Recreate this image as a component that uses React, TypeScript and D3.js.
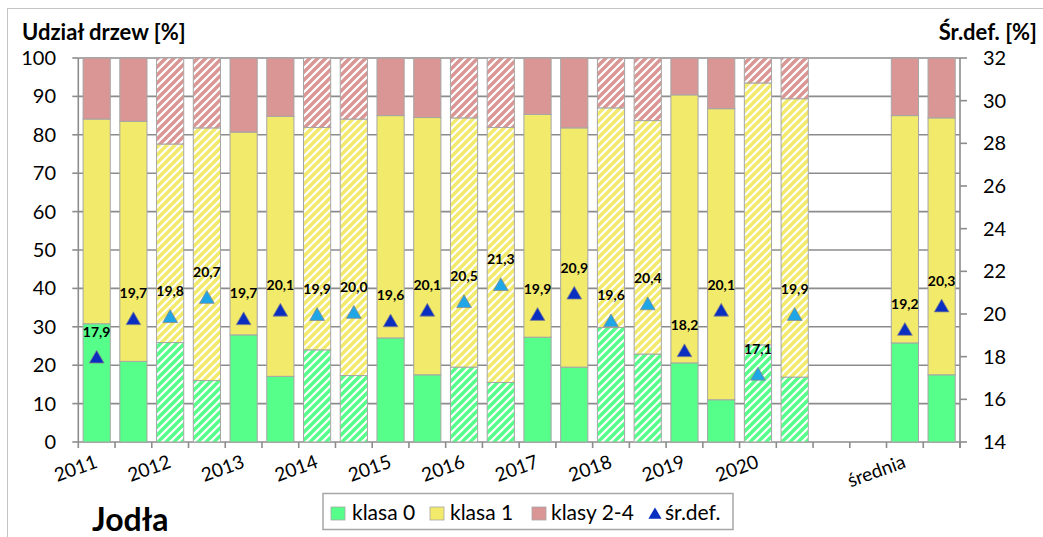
import React from "react";
import * as d3 from "d3";

const categories = ["2011","","2012","","2013","","2014","","2015","","2016","","2017","","2018","","2019","","2020","","","","średnia",""];
const klasa0 = [30.8,21.0,25.9,16.0,27.9,17.1,24.0,17.3,27.1,17.5,19.5,15.5,27.3,19.5,29.8,22.9,20.6,11.0,25.3,16.9,null,null,25.8,17.5];
const klasa1 = [53.3,62.5,51.7,65.8,52.8,67.7,57.9,66.8,57.9,67.0,64.9,66.4,58.0,62.3,57.2,60.8,69.8,75.8,68.2,72.5,null,null,59.2,66.9];
const klasy24 = [15.9,16.5,22.4,18.2,19.3,15.2,18.1,15.9,15.0,15.5,15.6,18.1,14.7,18.2,13.0,16.3,9.6,13.2,6.5,10.6,null,null,15.0,15.6];
const srDef = [17.9,19.7,19.8,20.7,19.7,20.1,19.9,20.0,19.6,20.1,20.5,21.3,19.9,20.9,19.6,20.4,18.2,20.1,17.1,19.9,null,null,19.2,20.3];
const hatched = [false,false,true,true,false,false,true,true,false,false,true,true,false,false,true,true,false,false,true,true,false,false,false,false];
const leftTicks = [0,10,20,30,40,50,60,70,80,90,100];
const rightTicks = [14,16,18,20,22,24,26,28,30,32];
const legendLabels = ["klasa 0", "klasa 1", "klasy 2-4", "śr.def."];

const C_GREEN = "#55FF8A";
const C_YELLOW = "#F2EA6A";
const C_PINK = "#DA9694";
const C_DARK = "#0A2EC0";
const C_LIGHT = "#1EA6E6";
const FONT = "Lato, 'Open Sans', sans-serif";

export default function App() {
  const W = 1043, H = 537;
  const x0 = 78.3, x1 = 960, yTop = 58, yBot = 442;
  const idx = categories.map((_, i) => String(i));
  const x = d3.scaleBand().domain(idx).range([x0, x1]).paddingInner(0.26).paddingOuter(0.13);
  const yL = d3.scaleLinear().domain([0, 100]).range([yBot, yTop]);
  const yR = d3.scaleLinear().domain([14, 32]).range([yBot, yTop]);
  const step = (x1 - x0) / categories.length;
  const tri = d3.symbol().type(d3.symbolTriangle).size(95)();

  const series = [
    { vals: klasa0, color: C_GREEN, pid: "hg" },
    { vals: klasa1, color: C_YELLOW, pid: "hy" },
    { vals: klasy24, color: C_PINK, pid: "hp" },
  ];

  const bars: React.ReactNode[] = [];
  categories.forEach((_, i) => {
    let acc = 0;
    series.forEach((s, si) => {
      const v = s.vals[i];
      if (v == null) return;
      const yb = yL(acc), yt = yL(acc + v);
      acc += v;
      bars.push(
        <rect key={`b${i}-${si}`} x={x(String(i))} y={yt} width={x.bandwidth()} height={yb - yt}
          fill={hatched[i] ? `url(#${s.pid})` : s.color} stroke="#a6a6a6" strokeWidth={1} />
      );
    });
  });

  const pattern = (id: string, color: string) => (
    <pattern id={id} patternUnits="userSpaceOnUse" width={8} height={8}>
      <rect width={8} height={8} fill="#ffffff" />
      <path d="M-2,2 l4,-4 M0,8 l8,-8 M6,10 l4,-4" stroke={color} strokeWidth={3.4} />
    </pattern>
  );

  const legendItems = [
    { sx: 331, tx: 352, color: C_GREEN },
    { sx: 430, tx: 450, color: C_YELLOW },
    { sx: 532, tx: 551, color: C_PINK },
  ];

  return (
    <svg width={W} height={H} style={{ position: "absolute", left: 0, top: 0, background: "#fff" }} fontFamily={FONT}>
      <defs>
        {pattern("hg", C_GREEN)}
        {pattern("hy", C_YELLOW)}
        {pattern("hp", C_PINK)}
      </defs>
      <rect x={7.5} y={8.5} width={1200} height={700} fill="#fff" stroke="#c4c4c4" strokeWidth={1} />
      {leftTicks.map(t => (
        <line key={`g${t}`} x1={x0} x2={x1} y1={yL(t)} y2={yL(t)} stroke="#8c8c8c" strokeWidth={1.6} />
      ))}
      {bars}
      <line x1={x0} x2={x0} y1={yTop} y2={yBot + 6} stroke="#8c8c8c" strokeWidth={1.6} />
      <line x1={x1} x2={x1} y1={yTop} y2={yBot + 6} stroke="#8c8c8c" strokeWidth={1.6} />
      {leftTicks.map(t => (
        <g key={`lt${t}`}>
          <line x1={x0 - 6} x2={x0} y1={yL(t)} y2={yL(t)} stroke="#8c8c8c" strokeWidth={1.6} />
          <text x={56} y={yL(t)} dy="0.35em" textAnchor="end" fontSize={20} fill="#000">{t}</text>
        </g>
      ))}
      {rightTicks.map(t => (
        <g key={`rt${t}`}>
          <line x1={x1} x2={x1 + 7} y1={yR(t)} y2={yR(t)} stroke="#8c8c8c" strokeWidth={1.6} />
          <text x={983} y={yR(t)} dy="0.35em" textAnchor="start" fontSize={20} fill="#000">{t}</text>
        </g>
      ))}
      {categories.map((_, i) => (
        <line key={`xt${i}`} x1={x0 + step * (i + 1)} x2={x0 + step * (i + 1)} y1={yBot} y2={yBot + 6} stroke="#8c8c8c" strokeWidth={1.6} />
      ))}
      {categories.map((c, i) => c ? (
        <text key={`xl${i}`} transform={`translate(${(x(String(i)) as number) + x.bandwidth() / 2 + 2},${467}) rotate(-20)`}
          textAnchor="end" fontSize={19} fill="#000">{c}</text>
      ) : null)}
      {srDef.map((v, i) => v == null ? null : (
        <g key={`m${i}`}>
          <path d={tri} transform={`translate(${(x(String(i)) as number) + x.bandwidth() / 2},${yR(v)})`}
            fill={hatched[i] ? C_LIGHT : C_DARK} stroke="#8a8a8a" strokeWidth={0.8} />
          <text x={(x(String(i)) as number) + x.bandwidth() / 2} y={yR(v) - 27} dy="0.35em" textAnchor="middle"
            fontSize={14} fontWeight="bold" fill="#000">{v.toFixed(1).replace(".", ",")}</text>
        </g>
      ))}
      <text x={22} y={40} fontSize={22} fontWeight="bold" fill="#000">Udział drzew [%]</text>
      <text x={1037} y={40} fontSize={22} fontWeight="bold" textAnchor="end" fill="#000">Śr.def. [%]</text>
      <text x={92} y={531} fontSize={32} fontWeight="bold" fill="#000">Jodła</text>
      <rect x={323} y={493.5} width={410} height={36} fill="#fff" stroke="#a6a6a6" strokeWidth={1.5} />
      {legendItems.map((it, k) => (
        <g key={`lg${k}`}>
          <rect x={it.sx} y={507} width={14} height={13} fill={it.color} stroke="#a6a6a6" strokeWidth={0.8} />
          <text x={it.tx} y={520} fontSize={21} fill="#000">{legendLabels[k]}</text>
        </g>
      ))}
      <path d={d3.symbol().type(d3.symbolTriangle).size(75)()} transform="translate(655,515)" fill={C_DARK} />
      <text x={665} y={520} fontSize={21} fill="#000">{legendLabels[3]}</text>
    </svg>
  );
}
